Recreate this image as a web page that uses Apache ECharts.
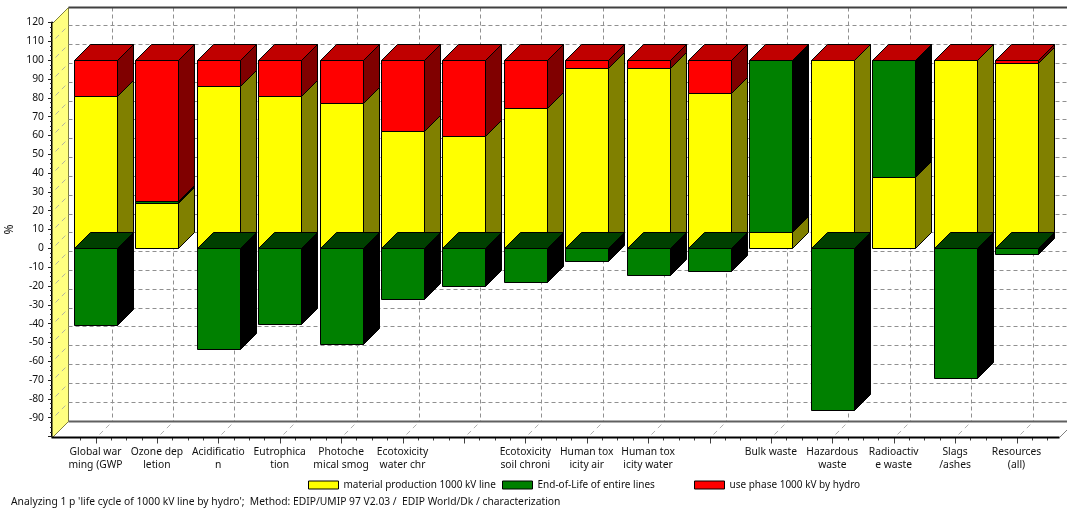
<!DOCTYPE html>
<html>
<head>
<meta charset="utf-8">
<style>html,body{margin:0;padding:0;background:#fff}#c{width:1067px;height:513px}</style>
<script src="https://cdn.jsdelivr.net/npm/echarts@6/dist/echarts.min.js"></script>
</head>
<body>
<div id="c"></div>
<script>
const categories = ['Global war\nming (GWP','Ozone dep\nletion','Acidificatio\nn','Eutrophica\ntion','Photoche\nmical smog','Ecotoxicity\nwater chr','','Ecotoxicity\nsoil chroni','Human tox\nicity air','Human tox\nicity water','','Bulk waste','Hazardous\nwaste','Radioactiv\ne waste','Slags\n/ashes','Resources\n(all)'];
const materialProduction = [81,24,86.4,81,77,62.5,59.5,74.5,96,96,82.5,8.5,100,38,100,98.5];
const endOfLife = [-41,1,-53.5,-40,-51,-27,-20,-18,-7,-14,-12,91.5,-86,62,-69,-3];
const usePhase = [19,75,13.6,19,23,37.5,40.5,25.5,4,4,17.5,0,0,0,0,1.5];
const seriesNames = ['material production 1000 kV line','End-of-Life of entire lines','use phase 1000 kV by hydro'];
const footer = "Analyzing 1 p 'life cycle of 1000 kV line by hydro';  Method: EDIP/UMIP 97 V2.03 /  EDIP World/Dk / characterization";
const FONT = 'Noto Sans';
const DEPTH = 16;

const yellowData = materialProduction.map((v,i)=>[i,0,v,0]);
const greenData = endOfLife.map((g,i)=>g<0?[i,0,g,1]:[i,materialProduction[i],materialProduction[i]+g,0]);
const redData = usePhase.map((r,i)=>{const b=materialProduction[i]+Math.max(endOfLife[i],0);return [i,b,b+r,1];});

const crisp = v => Math.round(v)+0.5;
function poly(points, fill){
  return {type:'polygon',shape:{points},style:{fill,stroke:'#000',lineWidth:1}};
}
function segment(front, side, top){
  return function(params, api){
    const i = api.value(0);
    const a = api.coord([i,api.value(1)]);
    const b = api.coord([i,api.value(2)]);
    const hw = api.size([1,0])[0]*0.35;
    const xl = crisp(a[0]-hw), xr = crisp(a[0]+hw);
    const yt = crisp(Math.min(a[1],b[1])), yb = crisp(Math.max(a[1],b[1]));
    const d = DEPTH;
    const kids = [
      poly([[xr,yt],[xr+d,yt-d],[xr+d,yb-d],[xr,yb]],side),
      poly([[xl,yt],[xr,yt],[xr,yb],[xl,yb]],front)
    ];
    if(api.value(3)) kids.push(poly([[xl,yt],[xl+d,yt-d],[xr+d,yt-d],[xr,yt]],top));
    return {type:'group',children:kids};
  };
}
function seg(p1,p2,color,width,dash){
  return {type:'line',shape:{x1:p1[0],y1:p1[1],x2:p2[0],y2:p2[1]},
    style:{stroke:color,lineWidth:width,lineDash:dash||null}};
}
function frame(params, api){
  const d = DEPTH, n = categories.length;
  const step = api.size([1,0])[0];
  const yTop = api.coord([0,120])[1], yBot = api.coord([0,-100])[1];
  const xL = api.coord([0,0])[0]-step*0.705;
  const xR = api.coord([n-1,0])[0]+step*0.685;
  const left = crisp(xL), right = crisp(xR), bot = crisp(yBot);
  const backL = left+d, backT = crisp(yTop)-d, backB = bot-d;
  const kids = [];
  kids.push({type:'polygon',shape:{points:[[left,crisp(yTop)],[backL,backT],[backL,backB],[left,bot]]},
    style:{fill:'#ffff80',stroke:'#808040',lineWidth:1}});
  for(let v=-90;v<=110;v+=10){
    const y = crisp(api.coord([0,v])[1]);
    kids.push(seg([backL,y-d],[1067,y-d],'#909090',1,[4,3]));
    kids.push(seg([left+3,y-3],[backL-2,y-d+2],'#b4b4a0',1,[5,4]));
  }
  for(let i=0;i<n;i++){
    const x = crisp(api.coord([i,0])[0]);
    kids.push(seg([x+d,backT],[x+d,backB],'#909090',1,[4,3]));
    kids.push(seg([x+3,bot-3],[x+d,backB],'#b0b0b0',1,[5,4]));
    for(let k=-1;k<=2;k++){
      const tx = Math.round(api.coord([i,0])[0]+step*k/4)+0.5;
      if(k!==0) kids.push(seg([tx,bot],[tx,bot+3],'#404040',1));
    }
    kids.push(seg([x,bot],[x,bot+6],'#404040',1));
  }
  kids.push(seg([backL,backT],[1067,backT],'#404040',2));
  kids.push(seg([backL,backB],[1067,backB],'#606060',2));
  kids.push(seg([right,bot],[1067,bot-(1067-right)],'#808080',1));
  kids.push(seg([left-1,bot],[right,bot],'#000',2));
  return {type:'group',children:kids};
}
function bars(i, data, front, side, top){
  return {type:'custom',name:seriesNames[i],data,renderItem:segment(front,side,top),
    encode:{x:0,y:[1,2]},itemStyle:{color:front},clip:false,z:3,silent:true};
}
const legendPos = [308,502,694];
const chart = echarts.init(document.getElementById('c'),null,{renderer:'canvas'});
chart.setOption({
  animation:false,
  backgroundColor:'#fff',
  textStyle:{fontFamily:FONT},
  title:{text:footer,left:11,top:497,padding:0,textStyle:{fontFamily:FONT,fontSize:10.3,fontWeight:'normal',color:'#111'}},
  legend:seriesNames.map((name,i)=>({data:[{name,icon:'rect',itemStyle:{borderColor:'#000',borderWidth:1}}],left:legendPos[i],top:480,padding:0,itemWidth:30,itemHeight:8,
    selectedMode:false,textStyle:{fontFamily:FONT,fontSize:10,color:'#111'}})),
  grid:{left:64.8,right:19.8,top:22.5,bottom:76.5,containLabel:false,outerBoundsMode:'none'},
  xAxis:{type:'category',data:categories,axisLine:{show:false},axisTick:{show:false},
    axisLabel:{interval:0,margin:9,fontFamily:FONT,fontSize:10.3,lineHeight:13,color:'#111',align:'center'},splitLine:{show:false}},
  yAxis:{type:'value',min:-100,max:120,interval:10,offset:12.8,name:'%',nameLocation:'middle',nameGap:31,
    nameTextStyle:{fontFamily:FONT,fontSize:12,color:'#111'},
    axisLine:{show:true,lineStyle:{color:'#000',width:2}},
    axisTick:{show:true,length:4,lineStyle:{color:'#222'}},
    minorTick:{show:true,splitNumber:4,length:2,lineStyle:{color:'#222'}},
    axisLabel:{margin:8,padding:[3,0,0,0],fontFamily:FONT,fontSize:10.3,color:'#111',formatter:v=>v===-100?'':String(v)},
    splitLine:{show:false}},
  series:[
    {type:'custom',name:'frame',data:[[0,0]],renderItem:frame,encode:{x:0,y:1},clip:false,z:1,silent:true},
    bars(0,yellowData,'#ffff00','#808000','#c0c000'),
    bars(2,redData,'#ff0000','#800000','#c00000'),
    bars(1,greenData,'#008000','#000000','#004000')
  ]
});
</script>
</body>
</html>
